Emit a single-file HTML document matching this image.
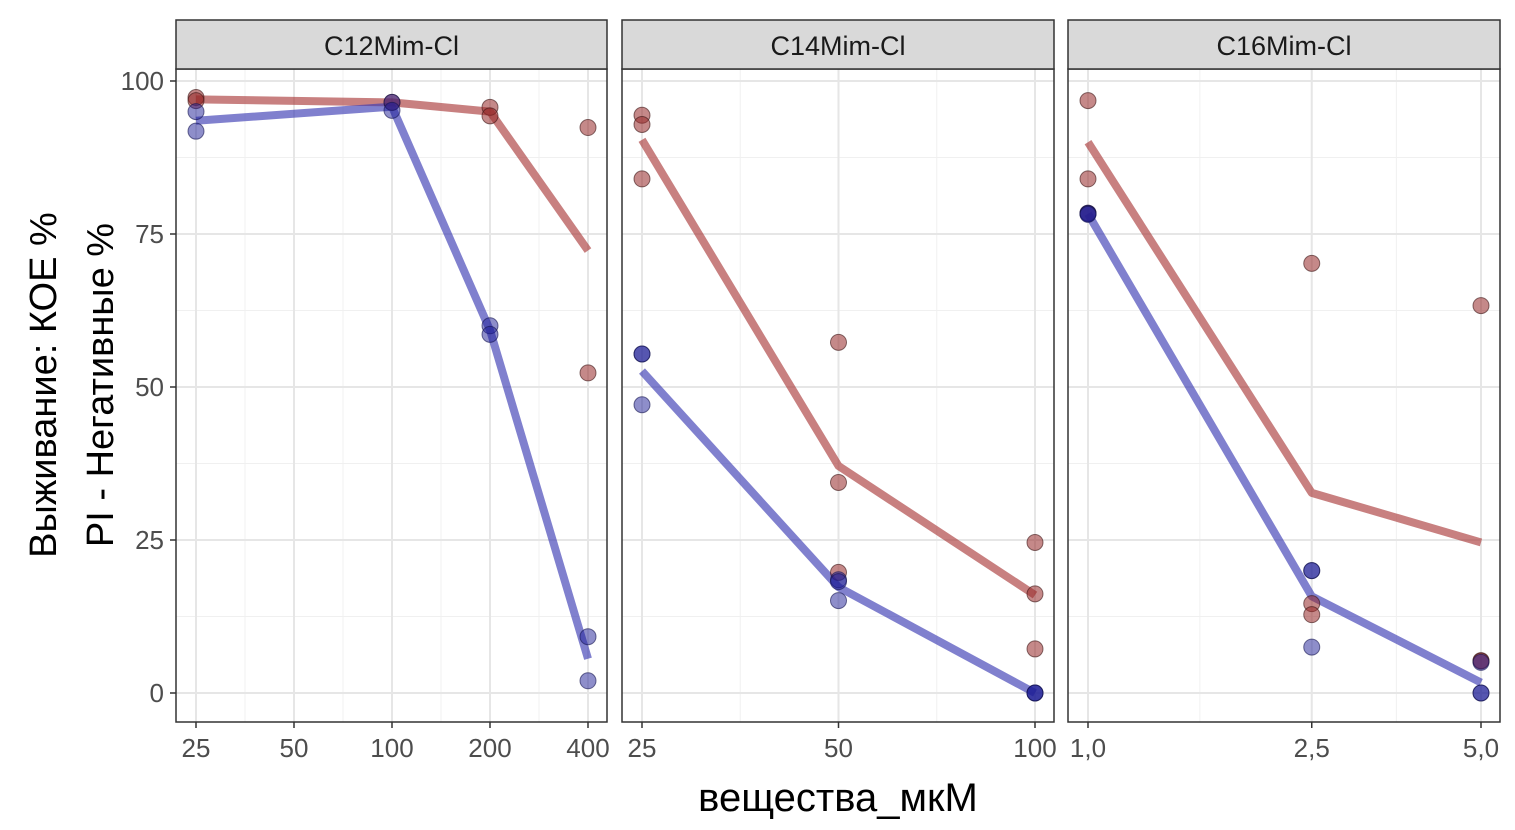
<!DOCTYPE html>
<html><head><meta charset="utf-8"><style>
body{margin:0;background:#fff;}
svg{display:block;font-family:"Liberation Sans","DejaVu Sans",sans-serif;}
</style></head><body>
<svg id="chart" width="1515" height="830"></svg>
<script>
const panelTitles=["C12Mim-Cl","C14Mim-Cl","C16Mim-Cl"];
const xBreaks=[[25,50,100,200,400],[25,50,100],[1,2.5,5]];
const xTickLabels=[["25","50","100","200","400"],["25","50","100"],["1,0","2,5","5,0"]];
const xDomains=[[25,400],[25,100],[1,5]];
const yTicks=[0,25,50,75,100];
const redX=[[25,25,100,200,200,400,400],[25,25,25,50,50,50,100,100,100],[1,1,1,2.5,2.5,2.5,5,5,5]];
const redY=[[97.3,96.8,96.5,95.7,94.3,92.4,52.3],[94.4,92.9,84,57.3,34.4,19.7,24.6,16.2,7.2],[96.8,84,78.4,70.2,14.6,12.8,63.3,5.3,5.2]];
const blueX=[[25,25,100,100,200,200,400,400],[25,25,25,50,50,50,100,100,100],[1,1,1,2.5,2.5,2.5,5,5,5]];
const blueY=[[95,91.8,96.5,95.2,60,58.6,9.2,2],[55.4,55.4,47.1,18.5,18.2,15.1,0,0,0],[78.4,78.3,78.2,20,20,7.5,5,0,0]];
const redLineX=[[25,100,200,400],[25,50,100],[1,2.5,5]];
const redLineY=[[97,96.5,95,72.3],[90.4,37.1,16],[90,32.7,24.6]];
const blueLineX=[[25,100,200,400],[25,50,100],[1,2.5,5]];
const blueLineY=[[93.5,95.8,59.3,5.6],[52.6,17.3,0],[78.3,15.8,1.7]];

const NS="http://www.w3.org/2000/svg";
const svg=document.getElementById('chart');
function mk(tag,attrs,parent){const e=document.createElementNS(NS,tag);for(const k in attrs)e.setAttribute(k,attrs[k]);(parent||svg).appendChild(e);return e;}
const panels=[[176,607],[622,1054],[1068,1500]];
const plotTop=69,plotBot=722;
function yS(v){return 693-(v/100)*612;}
function xS(p,v){const [a,b]=xDomains[p];const [l,r]=panels[p];const x0=l+20,x1=r-19;return x0+(Math.log(v)-Math.log(a))/(Math.log(b)-Math.log(a))*(x1-x0);}

for(let p=0;p<3;p++){
  const [l,r]=panels[p];
  const g=mk('g',{});
  
  
  mk('rect',{x:l,y:plotTop,width:r-l,height:plotBot-plotTop,fill:'#fff'},g);
  for(let i=0;i<4;i++){const v=12.5+25*i;mk('line',{x1:l,x2:r,y1:yS(v),y2:yS(v),stroke:'#f0f0f0','stroke-width':1},g);}
  const br=xBreaks[p];
  for(let i=0;i<br.length-1;i++){const m=Math.sqrt(br[i]*br[i+1]);const x=xS(p,m);mk('line',{x1:x,x2:x,y1:plotTop,y2:plotBot,stroke:'#f0f0f0','stroke-width':1},g);}
  yTicks.forEach(v=>mk('line',{x1:l,x2:r,y1:yS(v),y2:yS(v),stroke:'#e6e6e6','stroke-width':2},g));
  br.forEach((v,i)=>{const x=xS(p,v);mk('line',{x1:x,x2:x,y1:plotTop,y2:plotBot,stroke:'#e6e6e6','stroke-width':2},g);
    mk('line',{x1:x,x2:x,y1:plotBot,y2:plotBot+6,stroke:'#333','stroke-width':1.5},g);
    const t=mk('text',{x:x,y:plotBot+35,'text-anchor':'middle','font-size':26,fill:'#4d4d4d'},g);t.textContent=xTickLabels[p][i];
    });
  const pl=(xs,ys,c,n)=>{const e=mk('polyline',{points:xs.map((x,i)=>xS(p,x)+','+yS(ys[i])).join(' '),fill:'none',stroke:c,'stroke-width':8,'stroke-linejoin':'round'},g);};
  pl(redLineX[p],redLineY[p],'rgba(170,60,60,0.65)','pi-negative-line');
  pl(blueLineX[p],blueLineY[p],'rgba(60,60,180,0.65)','cfu-survival-line');
  redX[p].forEach((x,i)=>{const c=mk('circle',{cx:xS(p,x),cy:yS(redY[p][i]),r:8,fill:'rgba(150,40,40,0.55)',stroke:'rgba(60,20,20,0.6)','stroke-width':1},g);});
  blueX[p].forEach((x,i)=>{const c=mk('circle',{cx:xS(p,x),cy:yS(blueY[p][i]),r:8,fill:'rgba(30,30,150,0.5)',stroke:'rgba(20,20,80,0.6)','stroke-width':1},g);});
  mk('rect',{x:l,y:plotTop,width:r-l,height:plotBot-plotTop,fill:'none',stroke:'#333','stroke-width':1.5},g);
  const s=mk('rect',{x:l,y:20,width:r-l,height:49,fill:'#d9d9d9',stroke:'#333','stroke-width':1.5},g);
  
  const st=mk('text',{x:(l+r)/2,y:55,'text-anchor':'middle','font-size':27,fill:'#1a1a1a'},g);st.textContent=panelTitles[p];
  
}
yTicks.forEach(v=>{mk('line',{x1:170,x2:176,y1:yS(v),y2:yS(v),stroke:'#333','stroke-width':1.5});
  const t=mk('text',{x:164,y:yS(v)+9,'text-anchor':'end','font-size':26,fill:'#4d4d4d'});t.textContent=v;
  });
const xt=mk('text',{x:838,y:811,'text-anchor':'middle','font-size':40,fill:'#000'});xt.textContent='вещества_мкМ';

const y1=mk('text',{x:0,y:0,'text-anchor':'middle','font-size':38,fill:'#000',transform:'translate(56,385) rotate(-90)'});y1.textContent='Выживание: КОЕ %';

const y2=mk('text',{x:0,y:0,'text-anchor':'middle','font-size':38,fill:'#000',transform:'translate(113,385) rotate(-90)'});y2.textContent='PI - Негативные %';

</script>
</body></html>
